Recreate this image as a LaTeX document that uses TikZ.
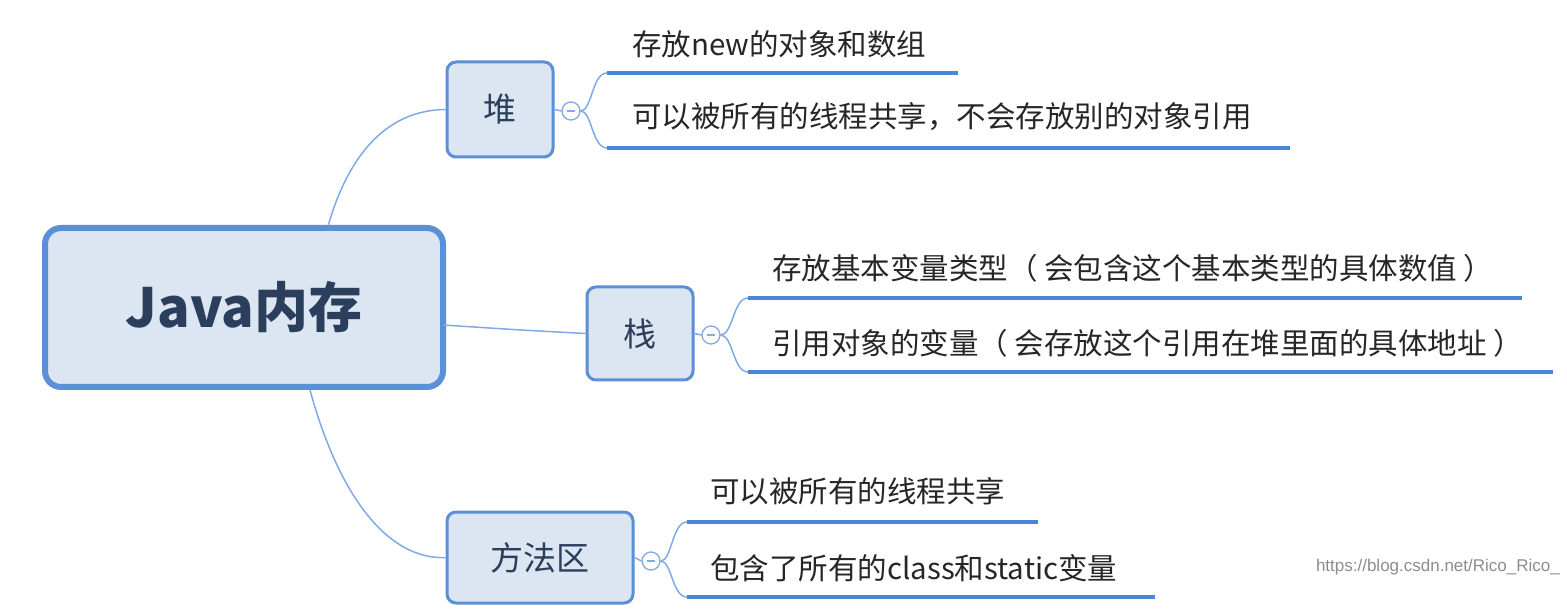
\documentclass[tikz,border=0pt]{standalone}
\usepackage{fontspec}
\setmainfont{Noto Sans CJK SC}
\newfontfamily\wm{Liberation Sans}
\begin{document}
\begin{tikzpicture}[x=1pt,y=-1pt,
  box/.style={draw=boxb,fill=boxf,rounded corners=9pt,line width=3pt,inner sep=0pt,text=txt,font=\fontsize{33}{36}\selectfont},
  con/.style={draw=lineb!70,line width=1.5pt},
  ul/.style={draw=lineb,line width=4pt},
  lab/.style={anchor=west,font=\fontsize{29.5}{32}\selectfont,text=black!85,inner sep=0pt},
  tog/.style={circle,draw=lineb!70,fill=white,line width=1.3pt,minimum size=18pt,inner sep=0pt}]
\definecolor{boxb}{HTML}{5B8FD6}\definecolor{boxf}{HTML}{DCE6F2}
\definecolor{txt}{HTML}{2B3F5C}\definecolor{lineb}{HTML}{4A86D8}
\useasboundingbox (0,0) rectangle (1567,612);
\node[box,draw=boxb,line width=6pt,rounded corners=16pt,minimum width=398pt,minimum height=159pt,font=\fontsize{54}{58}\selectfont\bfseries] (main) at (244,307.5) {Java内存};
\node[box,minimum width=106pt,minimum height=95pt] (heap) at (500,109.5) {堆};
\node[box,minimum width=106pt,minimum height=93pt] (stack) at (640,333.5) {栈};
\node[box,minimum width=186pt,minimum height=91pt] (meth) at (540,557.5) {方法区};
\coordinate (m1) at (328,226); \coordinate (m2) at (443,325); \coordinate (m3) at (310,390);
\draw[con] (m1) .. controls (350,150) and (390,110) .. (heap.west);
\draw[con] (m2) .. controls (520,330) .. (stack.west);
\draw[con] (m3) .. controls (340,500) and (390,560) .. (meth.west);
\foreach \b/\c/\cx/\cy/\lx/\ya/\yb/\ea/\eb in {heap/h/571/111/607/73/148/958/1290, stack/s/711/335/748/298/372/1522/1553, meth/m/651/561/687/522/597/1038/1155}{
  \node[tog] (\c t) at (\cx,\cy) {};
  \draw[lineb!70,line width=1.3pt] (\cx-4,\cy) -- (\cx+4,\cy);
  \draw[con] (\b.east) -- (\c t.west);
  \coordinate (\c a) at (\lx,\ya); \coordinate (\c b) at (\lx,\yb);
  \coordinate (\c A) at (\ea,\ya); \coordinate (\c B) at (\eb,\yb);
  \draw[con] (\c t.east) .. controls (\lx-15,\cy) and (\lx-15,\ya) .. (\c a);
  \draw[con] (\c t.east) .. controls (\lx-15,\cy) and (\lx-15,\yb) .. (\c b);
  \draw[ul] (\c a) -- (\c A);
  \draw[ul] (\c b) -- (\c B);
}
\node[lab] (h1) at (632,44) {存放new的对象和数组};
\node[lab] (h2) at (632,117) {可以被所有的线程共享，不会存放别的对象引用};
\node[lab] (s1) at (772,268) {存放基本变量类型（ 会包含这个基本类型的具体数值 ）};
\node[lab] (s2) at (772,343) {引用对象的变量（ 会存放这个引用在堆里面的具体地址 ）};
\node[lab] (m1t) at (710,491) {可以被所有的线程共享};
\node[lab] (m2t) at (710,568) {包含了所有的class和static变量};
\node[anchor=east,font=\wm\fontsize{17}{20}\selectfont,text=black!45,inner sep=0pt] (wmk) at (1560,567) {https://blog.csdn.net/Rico\_Rico\_};
\end{tikzpicture}
\end{document}
